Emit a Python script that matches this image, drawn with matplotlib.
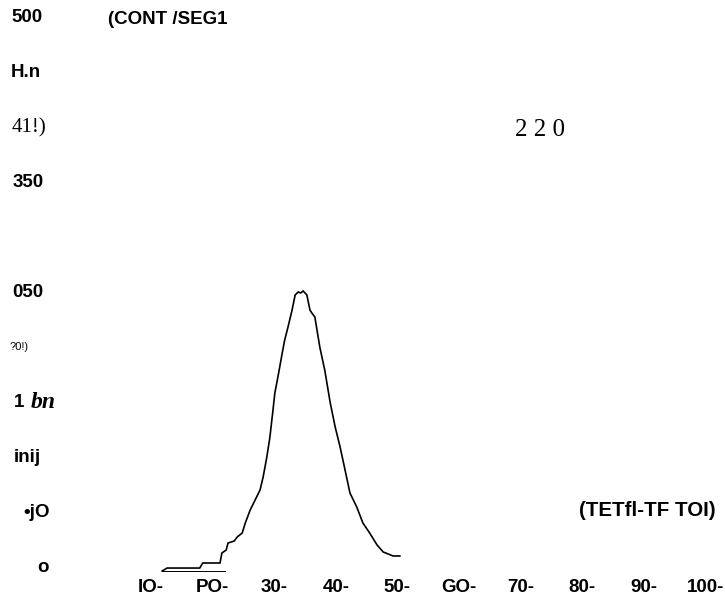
import matplotlib
matplotlib.use("Agg")
import matplotlib.pyplot as plt
from matplotlib.transforms import offset_copy, blended_transform_factory

# Distribution curve (x: class value, y: count)
curve_x = [11.8, 12.6, 17.9, 18.4, 21.2, 21.5, 22.2, 22.5, 23.5, 24.0, 24.8,
           25.3, 26.1, 26.9, 27.7, 28.2, 28.8, 29.3, 29.8, 30.1, 30.6, 31.3,
           31.7, 32.2, 32.9, 33.4, 33.9, 34.3, 34.7, 35.3, 35.8, 36.1, 36.6,
           37.4, 38.2, 39.1, 39.9, 40.7, 41.5, 42.3, 43.4, 44.4, 45.5, 46.7,
           47.7, 49.3, 50.4]
curve_y = [0, 2.7, 2.7, 7.3, 7.3, 16.4, 19.1, 25.5, 27.3, 31.0, 34.6,
           43.7, 55.6, 64.7, 73.8, 85.6, 103.8, 122.0, 146.6, 162.1, 176.7, 198.5,
           210.4, 221.3, 237.7, 251.4, 254.1, 253.2, 255.0, 251.4, 237.7, 235.0, 231.3,
           204.0, 183.1, 153.0, 131.1, 112.9, 92.0, 71.0, 58.3, 43.7, 34.6, 23.7,
           17.3, 13.7, 13.7]

# Short baseline segment under the left tail
base_x = [11.8, 22.0]
base_y = [0, 0]

# Axis tick values and their printed labels
x_ticks = [10, 20, 30, 40, 50, 60, 70, 80, 90, 100]
x_labels = ["IO-", "PO-", "30-", "40-", "50-", "GO-", "70-", "80-", "90-", "100-"]
y_ticks = [500, 450, 400, 350, 250, 200, 150, 100, 50, 0]
y_labels = ["500", "H.n", "41!)", "350", "050", "?0!)", "1", "inij", "\u2022jO", "o"]

title_text = "(CONT /SEG1"
x_title_text = "(TETfl-TF TOI)"
note_text = "2 2 0"

W, H = 725, 600
fig = plt.figure(figsize=(W / 100, H / 100), dpi=100)
ax = fig.add_axes([0, 0, 1, 1])
ax.set_xlim(-14.53, 103.2)
ax.set_ylim(-26.4, 520.0)
ax.axis("off")

ax.plot(curve_x, curve_y, color="black", lw=1.2, solid_joinstyle="miter")
ax.plot(base_x, base_y, color="black", lw=0.7)

sans = "Liberation Sans"
serif = "Liberation Serif"

# x tick labels
xt = ax.get_xaxis_transform()
for v, lab in zip(x_ticks, x_labels):
    ax.text(v, 1 - 588 / H, lab, transform=xt, ha="center", va="center",
            fontsize=13.5, fontweight="bold", family=sans)

# y tick labels
yt = offset_copy(blended_transform_factory(ax.transAxes, ax.transData),
                 fig=fig, y=4, units="dots")
y_left = [11, 11, 12, 13, 12, 10, 14, 14, 23, 37]
styles = {
    "41!)": dict(family=serif, fontsize=15, fontweight="normal"),
    "?0!)": dict(family=sans, fontsize=8, fontweight="normal"),
}
for v, lab, px in zip(y_ticks, y_labels, y_left):
    st = styles.get(lab, dict(family=sans, fontsize=13.5, fontweight="bold"))
    ax.text(px / W, v, lab, transform=yt, ha="left", va="center", **st)

# italic suffix of the 150 label
ax.text(31 / W, 150, "bn", transform=yt, ha="left", va="center",
        fontsize=17, family=serif, style="italic", fontweight="bold")

# titles and annotation
ax.text(108 / W, 1 - 20 / H, title_text, transform=ax.transAxes, ha="left",
        va="center", fontsize=13.5, fontweight="bold", family=sans)
ax.text(579 / W, 1 - 511 / H, x_title_text, transform=ax.transAxes, ha="left",
        va="center", fontsize=14.8, fontweight="bold", family=sans)
ax.text(515 / W, 1 - 130 / H, note_text, transform=ax.transAxes, ha="left",
        va="center", fontsize=18, family=serif)

fig.savefig("out.png", dpi=100)
